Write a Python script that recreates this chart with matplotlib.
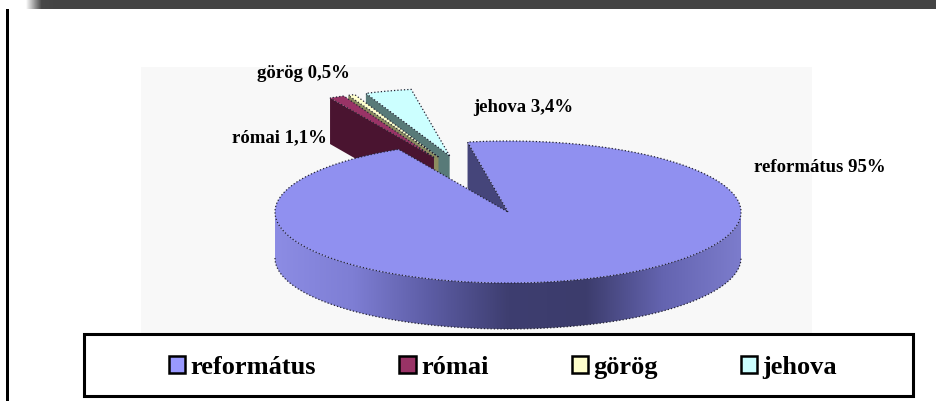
import numpy as np
from matplotlib import pyplot as plt
from matplotlib.colors import LinearSegmentedColormap
from matplotlib.patches import Patch, Polygon, Rectangle

# values from the chart
names = ['református', 'római', 'görög', 'jehova']
values = [95, 1.1, 0.5, 3.4]
labels = ['református 95%', 'római 1,1%', 'görög 0,5%', 'jehova 3,4%']
top_colors = ['#9090f0', '#993366', '#ffffcc', '#ccffff']
legend_colors = ['#9999ff', '#993366', '#ffffcc', '#ccffff']
side_colors = ['#45457a', '#4a1430', '#8c8c60', '#587a78']

CX, CY = 508, 213
RX, RY = 233, 71
DEPTH = 46
START = 100  # degrees, slices run clockwise from here
SMALL_R = 0.95
EXPLODE = 0.83
SERIF = 'Liberation Serif'


def point(t, r=1.0, ox=0.0, oy=0.0):
    """screen position of angle t on the flattened pie"""
    t = np.radians(t)
    return CX + ox + r * RX * np.cos(t), CY + oy - r * RY * np.sin(t)


def wedge(t1, t2, r=1.0, ox=0.0, oy=0.0):
    ts = np.linspace(t1, t2, 200)
    xs, ys = point(ts, r, ox, oy)
    tip = (CX + ox, CY + oy)
    return [tip] + list(zip(xs, ys))


def cut_face(t, r=1.0, ox=0.0, oy=0.0):
    x, y = point(t, r, ox, oy)
    tx, ty = CX + ox, CY + oy
    return [(x, y), (tx, ty), (tx, ty + DEPTH), (x, y + DEPTH)]


def main():
    fig = plt.figure(figsize=(9.37, 4.02), dpi=100)
    ax = fig.add_axes([0, 0, 1, 1])

    # top bar and left rule of the slide
    bar = LinearSegmentedColormap.from_list('bar', ['#ffffff', '#484848', '#444444'])
    ax.imshow(np.array([[0, 0.9, 1] + [1] * 30]), cmap=bar, extent=(12, 937, 10, 0),
              aspect='auto', interpolation='bilinear', zorder=1)
    ax.add_patch(Rectangle((6, 10), 3, 392, color='black', lw=0, zorder=2))
    ax.add_patch(Rectangle((141, 68), 671, 266, color='#f8f8f8', lw=0, zorder=1))

    # small slices, back to front, pushed out from the pie
    rim = dict(ec='#222233', lw=0.9, ls=':')
    small = []
    t = START
    for i in [3, 2, 1]:
        sweep = values[i] * 3.6
        small.append((i, t, t + sweep))
        t += sweep
    group_mid = (START + t) / 2
    z = 3
    for i, t1, t2 in small:
        mid = np.radians((group_mid + (t1 + t2) / 2) / 2)
        ox = EXPLODE * RX * np.cos(mid)
        oy = -EXPLODE * RY * np.sin(mid)
        ax.add_patch(Polygon(cut_face(t2, SMALL_R, ox, oy), fc=side_colors[i], ec='none', zorder=z))
        ax.add_patch(Polygon(wedge(t1, t2, SMALL_R, ox, oy), fc=top_colors[i], zorder=z + 1, **rim))
        z += 2

    # main slice: cut face seen through the gap, outer rim, top
    main_end = START - values[0] * 3.6
    ax.add_patch(Polygon(cut_face(START), fc=side_colors[0], ec='none', zorder=z))
    ts = np.linspace(180, 360, 200)
    xs, ys = point(ts)
    band = list(zip(xs, ys)) + list(zip(xs[::-1], ys[::-1] + DEPTH))
    poly = Polygon(band, fc='none', ec='none', zorder=z)
    ax.add_patch(poly)
    shade = LinearSegmentedColormap.from_list(
        'shade', ['#8c8ce4', '#7e7ed4', '#5c5ca4', '#3e3e70', '#3c3c6c', '#6464b0', '#7c7ccc'])
    im = ax.imshow(np.linspace(0, 1, 256)[None, :], cmap=shade, aspect='auto',
                   extent=(CX - RX, CX + RX, CY + RY + DEPTH, CY), zorder=z)
    im.set_clip_path(poly)
    ax.plot(xs, ys + DEPTH, color='#222233', lw=0.9, ls=':', zorder=z + 1)
    ax.add_patch(Polygon(wedge(START, main_end), fc=top_colors[0], zorder=z + 1, **rim))

    # slice labels
    lab = dict(family=SERIF, weight='bold', fontsize=13.5, color='black', zorder=z + 3, va='center')
    ax.text(754, 168, labels[0], **lab)
    ax.text(232, 138, labels[1], **lab)
    ax.text(257, 73, labels[2], **lab)
    ax.text(473, 108, labels[3], **lab)

    # legend box
    ax.add_patch(Rectangle((84, 335), 829, 62, fc='white', ec='black', lw=2.2, zorder=z + 3))
    handles = [Patch(fc=c, ec='black', lw=1.8) for c in legend_colors]
    leg = ax.legend(handles, names, ncol=4, loc='center', bbox_to_anchor=(503, 368),
                    bbox_transform=ax.transData, frameon=False, columnspacing=3.15,
                    handlelength=0.62, handleheight=0.62, handletextpad=0.2,
                    prop=dict(family=SERIF, weight='bold', size=19))
    leg.set_zorder(z + 4)

    ax.set_xlim(0, 937)
    ax.set_ylim(402, 0)
    ax.axis('off')
    fig.savefig('out.png', dpi=100)


if __name__ == "__main__":
    main()
